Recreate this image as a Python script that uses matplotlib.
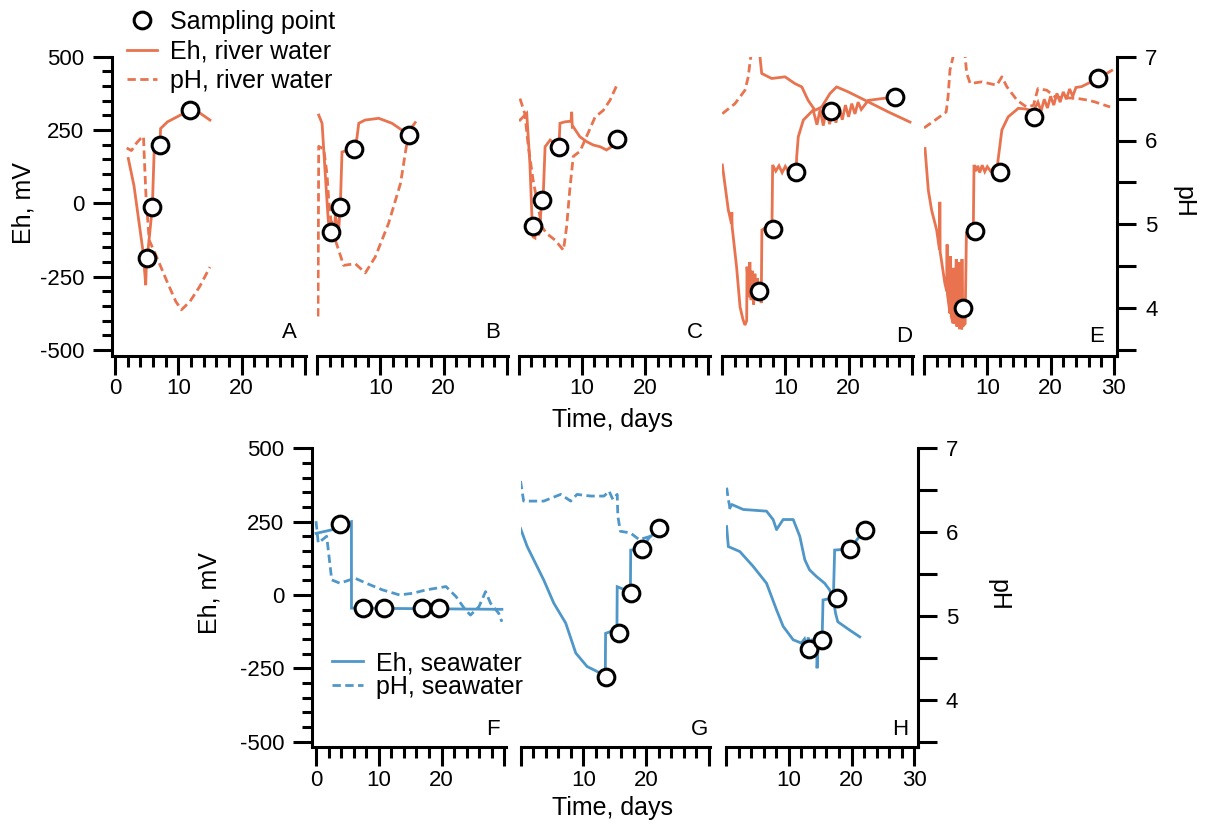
import matplotlib
matplotlib.use("Agg")
import matplotlib.pyplot as plt
from matplotlib.lines import Line2D

plt.rcParams['font.family'] = ['Liberation Sans', 'DejaVu Sans']
plt.rcParams['axes.unicode_minus'] = False

RIVER = '#E8734E'
SEA = '#4F97C8'

# ---------------- river water incubations (A-E) ----------------
a_eh_t = [2.1, 3.0, 4.4, 4.75, 4.85, 4.95, 5.4, 5.9, 6.2, 7.1, 7.2, 8.3, 11.85, 13.4, 15.0]
a_eh = [153, 60, -160, -250, -279, -215, -120, -12, 187, 199, 255, 278, 318, 308, 284]
a_ph_t = [1.85, 2.6, 3.4, 4.0, 4.5, 4.6, 4.9, 5.4, 6.3, 8.2, 9.6, 10.5, 11.85, 13.4, 15.0]
a_ph = [5.91, 5.88, 5.97, 6.02, 6.05, 5.85, 5.33, 4.81, 4.66, 4.32, 4.08, 3.98, 4.08, 4.26, 4.49]
a_smp_t = [5.0, 5.8, 7.1, 11.85]
a_smp_eh = [-188, -12, 199, 318]

b_eh_t = [0.27, 0.8, 1.3, 1.74, 2.1, 2.3, 2.6, 2.9, 3.4, 3.7, 3.95, 5.0, 5.8, 6.3, 6.6, 7.6, 9.75, 11.85, 13.4, 14.5]
b_eh = [301, 273, 102, -46, -125, -60, -130, -40, -100, 0, 175, 182, 187, 222, 273, 284, 290, 273, 250, 233]
b_ph_t = [0.16, 0.27, 1.06, 1.58, 1.85, 2.37, 3.43, 4.2, 6.05, 7.63, 9.2, 11.3, 13.2, 14.2, 15.0, 15.95]
b_ph = [3.9, 5.93, 5.9, 5.6, 5.29, 4.93, 4.69, 4.51, 4.53, 4.42, 4.61, 5.01, 5.49, 5.97, 6.16, 6.26]
b_smp_t = [2.2, 3.7, 5.8, 14.5]
b_smp_eh = [-97, -11, 187, 233]

c_eh_t = [0.24, 1.3, 1.8, 2.1, 2.3, 2.6, 2.8, 3.2, 3.7, 3.9, 4.2, 5.0, 6.4, 6.55, 7.35, 8.3, 8.4, 8.5, 8.65,
          9.7, 10.8, 11.8, 12.9, 13.9, 14.7, 15.5]
c_eh = [284, 307, 136, -34, -114, -118, -60, -110, 11, 23, 193, 216, 193, 273, 278, 280, 312, 260, 261,
        227, 210, 199, 193, 182, 193, 219]
c_ph_t = [0.24, 1.0, 1.55, 2.3, 3.1, 3.7, 4.45, 5.8, 7.1, 7.6, 8.1, 8.65, 9.7, 11.0, 12.1, 13.4, 14.45, 15.6]
c_ph = [6.5, 6.32, 5.93, 5.53, 5.21, 4.97, 4.89, 4.81, 4.69, 4.97, 5.41, 5.81, 5.87, 6.09, 6.28, 6.36, 6.48, 6.67]
c_smp_t = [2.3, 3.7, 6.4, 15.5]
c_smp_eh = [-76, 11, 193, 219]

d_eh_t = [0.05, 1.0, 1.5, 1.55, 1.6, 2.3, 2.85, 3.3, 3.63, 3.9, 3.95, 4.2, 4.4, 4.6, 4.8, 5.0, 5.2, 5.4,
          5.6, 5.8, 6.0, 6.2, 6.3, 7.9, 8.0, 8.5, 9.0, 9.5, 10.0, 10.5, 11.0, 11.7, 11.8, 12.05, 12.85,
          14.4, 15.0, 15.5, 16.0, 16.5, 17.0, 17.5, 18.0, 18.5, 19.0, 19.5, 20.0, 20.5, 21.0, 21.5, 22.0,
          23.1, 25.2, 27.3]
d_eh = [131, -23, -70, -30, -80, -216, -353, -395, -415, -400, -216, -320, -200, -330, -230, -345, -240, -330,
        -255, -320, -270, -340, -91, -70, 131, 110, 128, 105, 126, 108, 124, 108, 159, 227, 284,
        318, 268, 320, 265, 322, 270, 325, 275, 330, 285, 335, 295, 340, 305, 345, 320,
        351, 357, 363]
d_ph_t = [0.05, 2.05, 3.63, 4.15, 4.4, 5.0, 5.5, 6.0, 6.27, 7.85, 9.95, 11.5, 12.6, 13.6, 14.7, 15.75,
          17.05, 18.1, 19.95, 22.6, 26.3, 29.7]
d_ph = [6.32, 6.44, 6.6, 6.76, 6.92, 7.25, 7.25, 7.0, 6.8, 6.74, 6.76, 6.68, 6.64, 6.48, 6.36, 6.4,
        6.56, 6.64, 6.58, 6.48, 6.34, 6.22]
d_smp_t = [5.9, 8.1, 11.7, 17.2, 27.3]
d_smp_eh = [-298, -88, 108, 315, 363]

e_eh_t = [0.16, 0.68, 1.2, 2.0, 2.45, 2.5, 2.55, 3.3, 3.6, 3.65, 3.7, 4.1, 4.2, 4.3, 4.6, 4.7, 4.8, 5.1,
          5.2, 5.5, 5.6, 5.95, 6.0, 6.1, 6.5, 6.7, 7.8, 7.9, 8.2, 8.5, 8.8, 9.2, 9.6, 10.0, 10.5, 11.0,
          11.5, 11.7, 12.3, 13.3, 14.9, 16.0, 17.3, 18.0, 18.5, 19.0, 19.5, 20.0, 20.5, 21.0, 21.5, 22.0,
          22.5, 23.0, 23.5, 24.0, 24.9, 27.5, 29.65]
e_eh = [187, 45, -23, -91, -159, 5, -165, -273, -300, -140, -310, -375, -180, -385, -409, -220, -410, -190,
        -420, -200, -425, -426, -190, -420, -410, -100, -70, 131, 110, 128, 105, 130, 108, 125, 110, 122,
        108, 148, 250, 295, 324, 322, 315, 345, 315, 355, 325, 365, 335, 375, 345, 380,
        355, 390, 365, 395, 398, 426, 453]
e_ph_t = [0.0, 1.7, 3.5, 3.8, 4.1, 4.6, 5.5, 6.5, 6.75, 7.3, 9.15, 11.5, 12.3, 13.1, 14.7, 16.2, 17.3,
          18.0, 19.4, 20.7, 24.4, 26.0, 27.0, 29.4]
e_ph = [6.15, 6.24, 6.34, 6.52, 6.84, 7.0, 7.3, 7.0, 6.8, 6.68, 6.7, 6.66, 6.76, 6.64, 6.48, 6.4, 6.42,
        6.62, 6.6, 6.52, 6.5, 6.48, 6.46, 6.4]
e_smp_t = [6.2, 8.05, 12.0, 17.3, 27.5]
e_smp_eh = [-358, -93, 106, 295, 426]

# ---------------- seawater incubations (F-H) ----------------
f_eh_t = [0.0, 2.5, 3.9, 5.64, 5.65, 29.6]
f_eh = [210, 222, 241, 250, -45, -49]
f_ph_t = [0.0, 0.36, 1.7, 1.95, 2.5, 3.8, 6.2, 8.0, 10.6, 13.3, 15.4, 17.5, 20.7, 22.3, 23.8, 24.6,
          25.95, 27.0, 27.8, 29.1, 29.6]
f_ph = [6.13, 5.87, 5.95, 5.79, 5.43, 5.39, 5.45, 5.39, 5.31, 5.25, 5.27, 5.31, 5.35, 5.23, 5.07, 5.01,
        5.11, 5.29, 5.15, 5.03, 4.93]
f_smp_t = [3.9, 7.47, 10.9, 16.95, 19.6]
f_smp_eh = [241, -45, -45, -45, -45]

g_eh_t = [0.0, 1.07, 3.7, 5.3, 7.2, 8.8, 10.6, 12.2, 13.5, 13.55, 14.3, 15.35, 15.4, 17.5, 17.55, 19.4, 20.4, 22.1]
g_eh = [227, 165, 51, -28, -96, -198, -244, -261, -275, -131, -125, -131, 28, 10, 153, 157, 193, 227]
g_ph_t = [0.0, 0.5, 3.7, 6.4, 8.0, 9.0, 11.2, 13.3, 14.1, 14.7, 15.4, 15.5, 15.9, 17.5, 18.9, 20.7, 21.2]
g_ph = [6.61, 6.37, 6.37, 6.45, 6.37, 6.45, 6.43, 6.43, 6.49, 6.39, 6.45, 6.19, 6.01, 5.99, 5.91, 5.95, 5.91]
g_smp_t = [13.6, 15.7, 17.6, 19.4, 22.1]
g_smp_eh = [-281, -131, 8, 157, 227]

h_eh_t = [0.1, 0.37, 2.2, 4.3, 6.45, 8.05, 9.1, 10.7, 12.0, 12.5, 12.8, 13.1, 13.4, 13.7, 14.0, 14.4,
          14.5, 14.7, 15.3, 15.45, 17.1, 17.3, 19.7, 22.1]
h_eh = [233, 165, 148, 98, 40, -51, -107, -153, -164, -150, -175, -145, -180, -150, -175, -142,
        -250, -153, -155, -17, -10, 153, 157, 222]
h_ph_t = [0.1, 0.37, 0.63, 0.9, 2.75, 6.45, 7.5, 8.05, 9.1, 10.7, 11.75, 12.55, 13.3, 14.4, 15.7, 16.5,
          17.1, 17.45, 17.8, 19.7, 21.3]
h_ph = [6.53, 6.39, 6.29, 6.33, 6.27, 6.25, 6.15, 6.03, 6.15, 6.15, 5.95, 5.67, 5.55, 5.47, 5.39, 5.31,
        5.19, 5.03, 4.93, 4.83, 4.75]
h_smp_t = [13.2, 15.3, 17.65, 19.7, 22.1]
h_smp_eh = [-184, -155, -9, 157, 222]

#######################################################
W, H = 1206, 826
fig = plt.figure(figsize=(W / 100, H / 100), dpi=100)

EH_LO, EH_HI = -520, 500
PH_LO = 3.5 + (EH_LO + 500) * 3.5 / 1000     # pH axis lined up with Eh axis
LW_AX = 2.2
MS = 12


def add_panel(x0, top, ppd, xlo, xhi, xlabels):
    """One panel placed in pixel units; returns Eh axes and its pH twin."""
    height = (EH_HI - EH_LO) * 0.2933
    left = x0 + xlo * ppd
    width = (xhi - xlo) * ppd
    ax = fig.add_axes([left / W, 1 - (top + height) / H, width / W, height / H])
    ax.set_xlim(xlo, xhi)
    ax.set_ylim(EH_LO, EH_HI)
    for s in ['top', 'right', 'left']:
        ax.spines[s].set_visible(False)
    ax.spines['bottom'].set_linewidth(LW_AX)
    ax.spines['bottom'].set_capstyle('projecting')
    ax.set_xticks([0, 10, 20, 30])
    ax.set_xticklabels(xlabels)
    ax.set_xticks(range(0, 31, 2), minor=True)
    ax.tick_params(axis='x', which='major', length=14, width=LW_AX, labelsize=16, pad=2)
    ax.tick_params(axis='x', which='minor', length=8, width=LW_AX)
    ax.set_yticks([])
    ax2 = ax.twinx()
    ax2.set_ylim(PH_LO, 7)
    for s in ['top', 'right', 'left', 'bottom']:
        ax2.spines[s].set_visible(False)
    ax2.set_yticks([])
    ax.set_zorder(ax2.get_zorder() + 1)
    ax.patch.set_visible(False)
    return ax, ax2


def eh_axis(ax):
    ax.spines['left'].set_visible(True)
    ax.spines['left'].set_linewidth(LW_AX)
    ax.spines['left'].set_capstyle('projecting')
    ax.set_yticks([-500, -250, 0, 250, 500])
    ax.set_yticks(range(-500, 501, 50), minor=True)
    ax.tick_params(axis='y', which='major', length=14, width=LW_AX, labelsize=16, pad=6)
    ax.tick_params(axis='y', which='minor', length=7, width=LW_AX)


def ph_axis(ax2):
    ax2.spines['right'].set_visible(True)
    ax2.spines['right'].set_linewidth(LW_AX)
    ax2.spines['right'].set_capstyle('projecting')
    ax2.set_yticks([4, 5, 6, 7])
    ax2.set_yticks([3.5, 4.5, 5.5, 6.5], minor=True)
    ax2.tick_params(axis='y', which='both', length=14, width=LW_AX, labelsize=16, pad=6)


def draw(ax, ax2, color, eh_t, eh, ph_t, ph, smp_t, smp_eh, letter, lx, ly, ph_dash_n=None):
    ax.plot(eh_t, eh, color=color, lw=2.0, solid_joinstyle='miter')
    if ph_dash_n is None:
        ax2.plot(ph_t, ph, color=color, lw=2.0, dashes=(3, 1.6))
    else:
        ax2.plot(ph_t[:ph_dash_n], ph[:ph_dash_n], color=color, lw=2.0, dashes=(3, 1.6))
        ax2.plot(ph_t[ph_dash_n - 1:], ph[ph_dash_n - 1:], color=color, lw=2.0)
    ax.plot(smp_t, smp_eh, 'o', ms=MS, mfc='white', mec='black', mew=2.2, zorder=5, clip_on=False)
    ax.text(lx, ly, letter, ha='right', va='baseline', fontsize=16)


top, bot = 56.7, 448.3
pa = add_panel(115, top, 6.33, -0.5, 30.2, ['0', '10', '20', ''])
pb = add_panel(317, top, 6.33, 0, 30.2, ['', '10', '20', ''])
pc = add_panel(518.5, top, 6.33, 0, 30.2, ['', '10', '20', ''])
pd_ = add_panel(722, top, 6.33, 0, 30.2, ['', '10', '20', ''])
pe = add_panel(924, top, 6.33, 0, 30.55, ['', '10', '20', '30'])
pf = add_panel(316, bot, 6.28, -0.65, 30.2, ['0', '10', '20', ''])
pg = add_panel(520.5, bot, 6.28, 0, 30.2, ['', '10', '20', ''])
ph_ = add_panel(726, bot, 6.28, 0, 30.55, ['', '10', '20', '30'])

eh_axis(pa[0]); eh_axis(pf[0])
ph_axis(pe[1]); ph_axis(ph_[1])

draw(*pa, RIVER, a_eh_t, a_eh, a_ph_t, a_ph, a_smp_t, a_smp_eh, 'A', 28.75, -459)
draw(*pb, RIVER, b_eh_t, b_eh, b_ph_t, b_ph, b_smp_t, b_smp_eh, 'B', 28.9, -459)
draw(*pc, RIVER, c_eh_t, c_eh, c_ph_t, c_ph, c_smp_t, c_smp_eh, 'C', 29.1, -459)
draw(*pd_, RIVER, d_eh_t, d_eh, d_ph_t, d_ph, d_smp_t, d_smp_eh, 'D', 30.0, -473, ph_dash_n=6)
draw(*pe, RIVER, e_eh_t, e_eh, e_ph_t, e_ph, e_smp_t, e_smp_eh, 'E', 28.4, -473)
draw(*pf, SEA, f_eh_t, f_eh, f_ph_t, f_ph, f_smp_t, f_smp_eh, 'F', 29.2, -477)
draw(*pg, SEA, g_eh_t, g_eh, g_ph_t, g_ph, g_smp_t, g_smp_eh, 'G', 29.8, -477)
draw(*ph_, SEA, h_eh_t, h_eh, h_ph_t, h_ph, h_smp_t, h_smp_eh, 'H', 29.0, -477, ph_dash_n=3)

# axis titles
fig.text(23 / W, 1 - 203 / H, 'Eh, mV', rotation=90, ha='center', va='center', fontsize=18)
fig.text(1183 / W, 1 - 202 / H, 'pH', rotation=270, ha='center', va='center', fontsize=18)
fig.text(612 / W, 1 - 420 / H, 'Time, days', ha='center', va='center', fontsize=18)
fig.text(209 / W, 1 - 593 / H, 'Eh, mV', rotation=90, ha='center', va='center', fontsize=18)
fig.text(998 / W, 1 - 595 / H, 'pH', rotation=270, ha='center', va='center', fontsize=18)
fig.text(612 / W, 1 - 808 / H, 'Time, days', ha='center', va='center', fontsize=18)

# legends
river_h = [Line2D([], [], ls='none', marker='o', ms=MS, mfc='white', mec='black', mew=2.2),
           Line2D([], [], color=RIVER, lw=2.0),
           Line2D([], [], color=RIVER, lw=2.0, dashes=(3, 1.6))]
fig.legend(river_h, ['Sampling point', 'Eh, river water', 'pH, river water'],
           loc='upper left', bbox_to_anchor=(127 / W, 1 - 10 / H), frameon=False, fontsize=18,
           handlelength=1.2, handletextpad=0.5, labelspacing=0.22, borderpad=0, borderaxespad=0)
sea_h = [Line2D([], [], color=SEA, lw=2.0),
         Line2D([], [], color=SEA, lw=2.0, dashes=(3, 1.6))]
fig.legend(sea_h, ['Eh, seawater', 'pH, seawater'],
           loc='upper left', bbox_to_anchor=(332 / W, 1 - 651 / H), frameon=False, fontsize=18,
           handlelength=1.25, handletextpad=0.5, labelspacing=0.0, borderpad=0, borderaxespad=0)

fig.savefig('out.png', dpi=100)
